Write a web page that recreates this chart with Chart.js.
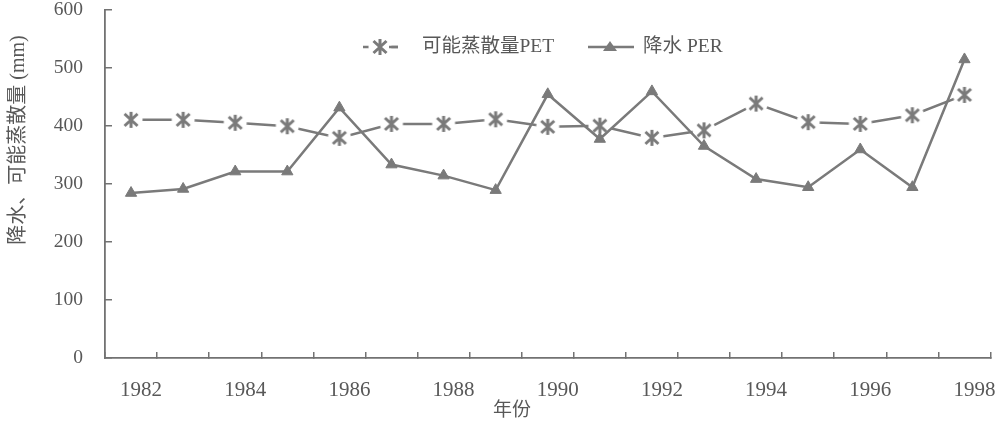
<!DOCTYPE html>
<html>
<head>
<meta charset="utf-8">
<script src="https://cdn.jsdelivr.net/npm/chart.js@4/dist/chart.umd.min.js"></script>
<style>
html,body{margin:0;padding:0;background:#fff;}
#wrap{width:1000px;height:428px;position:relative;}
</style>
</head>
<body>
<div id="wrap"><canvas id="c"></canvas></div>
<script>
// ---- data ----
const YEARS = ['1982','1983','1984','1985','1986','1987','1988','1989','1990','1991','1992','1993','1994','1995','1996','1997','1998'];
const PET = [410, 410, 405, 399, 379, 403, 403, 411, 398, 400, 379, 392, 438, 406, 403, 418, 453];
const PER = [284, 291, 321, 321, 431, 333, 314, 289, 454, 377, 459, 365, 308, 294, 359, 294, 514];
const Y_TICKS = [0, 100, 200, 300, 400, 500, 600];
const SERIES_NAMES = ['可能蒸散量PET', '降水 PER'];
const X_TITLE = '年份';
const Y_TITLE = '降水、可能蒸散量 (mm)';

// ---- styles ----
const LINE = '#7a7a7a';
const TEXT = '#585858';
const AXIS = '#727272';
const SERIF = '"Liberation Serif", "Noto Sans CJK SC", serif';

function makeStar() {
  const s = 26, m = 13;
  const c = document.createElement('canvas');
  c.width = s; c.height = s;
  const g = c.getContext('2d');
  g.fillStyle = '#fff';
  g.beginPath(); g.arc(m, m, 11.5, 0, Math.PI * 2); g.fill();
  g.strokeStyle = LINE; g.lineWidth = 3;
  const rx = 6.5, ry = 6, rv = 8;
  g.beginPath();
  g.moveTo(m - rx, m - ry); g.lineTo(m + rx, m + ry);
  g.moveTo(m + rx, m - ry); g.lineTo(m - rx, m + ry);
  g.moveTo(m, m - rv); g.lineTo(m, m + rv);
  g.stroke();
  return c;
}
const STAR = makeStar();

const decor = {
  id: 'decor',
  afterDraw(chart) {
    const ctx = chart.ctx;
    ctx.save();
    ctx.fillStyle = TEXT;
    ctx.strokeStyle = LINE;
    ctx.lineWidth = 2.5;
    // legend PET
    const ly = 47;
    ctx.beginPath(); ctx.moveTo(363, ly); ctx.lineTo(398, ly); ctx.stroke();
    ctx.drawImage(STAR, 380 - 13, ly - 13);
    ctx.beginPath(); ctx.moveTo(389, ly); ctx.lineTo(398, ly); ctx.stroke();
    ctx.font = '19.5px ' + SERIF;
    ctx.textAlign = 'left'; ctx.textBaseline = 'middle';
    ctx.fillText(SERIES_NAMES[0], 422, ly);
    // legend PER
    ctx.beginPath(); ctx.moveTo(588, ly); ctx.lineTo(634, ly); ctx.stroke();
    ctx.fillStyle = LINE;
    ctx.beginPath(); ctx.moveTo(610, ly - 6); ctx.lineTo(617, ly + 4); ctx.lineTo(603, ly + 4); ctx.closePath(); ctx.fill();
    ctx.fillStyle = TEXT;
    ctx.fillText(SERIES_NAMES[1], 643, ly);
    // x title
    ctx.textAlign = 'center';
    ctx.font = '19px ' + SERIF;
    ctx.fillText(X_TITLE, 512, 411);
    // y title
    ctx.translate(19, 140);
    ctx.rotate(-Math.PI / 2);
    ctx.font = '20px ' + SERIF;
    ctx.fillText(Y_TITLE, 0, 0);
    ctx.restore();
  }
};

new Chart(document.getElementById('c'), {
  type: 'line',
  data: {
    labels: YEARS,
    datasets: [
      {
        label: SERIES_NAMES[0],
        data: PET,
        borderColor: LINE,
        borderWidth: 2.5,
        pointStyle: STAR,
        pointRadius: 7,
        tension: 0,
        order: 1
      },
      {
        label: SERIES_NAMES[1],
        data: PER,
        borderColor: LINE,
        backgroundColor: LINE,
        borderWidth: 2.5,
        pointStyle: 'triangle',
        pointRadius: 6.5,
        pointBorderWidth: 1,
        pointBackgroundColor: LINE,
        pointBorderColor: LINE,
        tension: 0,
        order: 0
      }
    ]
  },
  options: {
    responsive: true,
    maintainAspectRatio: false,
    animation: false,
    events: [],
    layout: { padding: { top: 8, right: 9, left: 0, bottom: 0 } },
    plugins: { legend: { display: false }, tooltip: { enabled: false } },
    scales: {
      x: {
        type: 'category',
        offset: true,
        grid: { offset: true, drawOnChartArea: false, tickLength: -6, color: AXIS, lineWidth: 1.5 },
        border: { color: AXIS, width: 1.8 },
        ticks: {
          autoSkip: false, maxRotation: 0, minRotation: 0,
          color: TEXT, font: { family: SERIF, size: 21 },
          padding: 26, labelOffset: 10,
          callback: function (v, i) { return i % 2 === 0 ? YEARS[i] : ''; }
        },
        afterFit(s) { s.height = 70; s.paddingLeft = 0; s.paddingRight = 0; }
      },
      y: {
        min: Y_TICKS[0], max: Y_TICKS[Y_TICKS.length - 1],
        afterBuildTicks(s) { s.ticks = Y_TICKS.map(v => ({ value: v })); },
        grid: { drawOnChartArea: false, tickLength: -7, color: AXIS, lineWidth: 1.5 },
        border: { color: AXIS, width: 1.8 },
        ticks: { color: TEXT, font: { family: SERIF, size: 19.5 }, padding: 29 },
        afterFit(s) { s.width = 105; s.paddingTop = 0; s.paddingBottom = 0; }
      }
    }
  },
  plugins: [decor]
});
</script>
</body>
</html>
